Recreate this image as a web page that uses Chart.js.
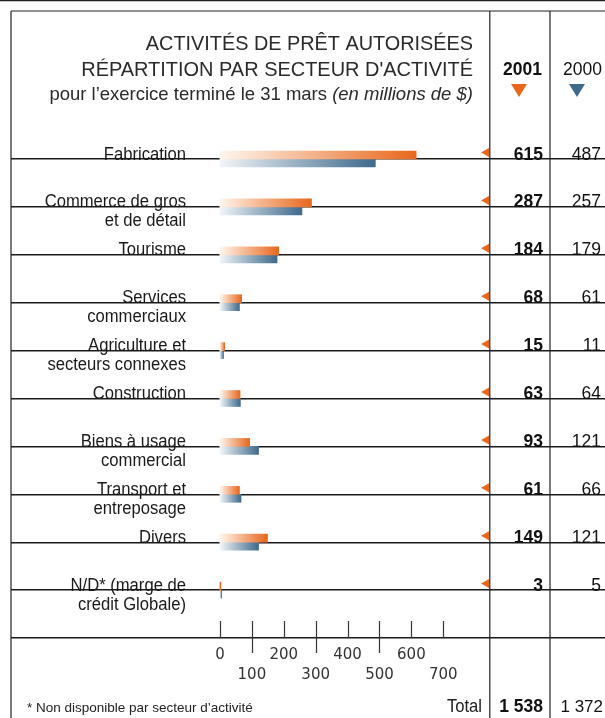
<!DOCTYPE html>
<html>
<head>
<meta charset="utf-8">
<script src="https://cdn.jsdelivr.net/npm/chart.js@4.4.1/dist/chart.umd.min.js"></script>
<style>
  html, body { margin: 0; padding: 0; background: #fff; overflow: hidden; }
  canvas { display: block; }
</style>
</head>
<body>
<canvas id="sectorChart" width="605" height="718"></canvas>
<script>
// rows of the table (label lines), last entry is the empty slot above the axis
const sectors = [
    ['Fabrication'],
    ['Commerce de gros', 'et de détail'],
    ['Tourisme'],
    ['Services', 'commerciaux'],
    ['Agriculture et', 'secteurs connexes'],
    ['Construction'],
    ['Biens à usage', 'commercial'],
    ['Transport et', 'entreposage'],
    ['Divers'],
    ['N/D* (marge de', 'crédit Globale)']
];
const loans2001 = [615, 287, 184, 68, 15, 63, 93, 61, 149, 3];
const loans2000 = [487, 257, 179, 61, 11, 64, 121, 66, 121, 5];
const axisTicks = [0, 100, 200, 300, 400, 500, 600, 700];
const totals = { y2001: '1 538', y2000: '1 372' };

const ORANGE = '#e8671c';
const BLUE = '#3e6a8c';
const INK = '#222';

function barFill(light, full) {
    return function (context) {
        const chart = context.chart;
        const xs = chart.scales.x;
        if (!xs || context.raw == null) return full;
        const x0 = xs.getPixelForValue(0);
        const x1 = xs.getPixelForValue(context.raw);
        if (!isFinite(x0) || !isFinite(x1) || x1 - x0 < 1) return full;
        const g = chart.ctx.createLinearGradient(x0, 0, x1, 0);
        g.addColorStop(0, light);
        g.addColorStop(1, full);
        return g;
    };
}

function txt(ctx, s, x, y, font, align, sx) {
    ctx.save();
    ctx.font = font;
    ctx.textAlign = align;
    ctx.textBaseline = 'alphabetic';
    ctx.translate(x, y);
    ctx.scale(sx || 1, 1);
    ctx.fillText(s, 0, 0);
    ctx.restore();
}

function tri(ctx, pts, color) {
    ctx.beginPath();
    ctx.moveTo(pts[0], pts[1]);
    ctx.lineTo(pts[2], pts[3]);
    ctx.lineTo(pts[4], pts[5]);
    ctx.closePath();
    ctx.fillStyle = color;
    ctx.fill();
}

const tablePlugin = {
    id: 'tablePlugin',
    afterDraw(chart) {
        const ctx = chart.ctx;
        const xs = chart.scales.x;
        const ys = chart.scales.y;
        const area = chart.chartArea;
        const W = chart.width, H = chart.height;
        const colA = 489.8, colB = 550;

        ctx.save();
        ctx.strokeStyle = INK;
        ctx.lineWidth = 1.2;
        ctx.beginPath();
        ctx.moveTo(0, 0.6); ctx.lineTo(W, 0.6);
        ctx.moveTo(11, 11); ctx.lineTo(W, 11);
        ctx.moveTo(11, 11); ctx.lineTo(11, H);
        ctx.moveTo(colA, 11); ctx.lineTo(colA, H);
        ctx.moveTo(colB, 11); ctx.lineTo(colB, H);
        ctx.stroke();

        // title block
        ctx.fillStyle = '#2a2a2a';
        txt(ctx, 'ACTIVITÉS DE PRÊT AUTORISÉES', 473, 50, '21px "Liberation Sans"', 'right', 0.945);
        txt(ctx, "RÉPARTITION PAR SECTEUR D'ACTIVITÉ", 473, 76, '21px "Liberation Sans"', 'right', 0.95);
        const smallFont = '18.5px "Liberation Sans"';
        const italFont = 'italic 18.5px "Liberation Sans"';
        ctx.font = italFont;
        const it = '(en millions de $)';
        const wIt = ctx.measureText(it).width;
        txt(ctx, it, 473, 100, italFont, 'right');
        txt(ctx, 'pour l’exercice terminé le 31 mars ', 473 - wIt, 100, smallFont, 'right');

        // column headers
        ctx.fillStyle = '#111';
        txt(ctx, '2001', 542, 75, 'bold 17.5px "Liberation Sans"', 'right');
        txt(ctx, '2000', 602, 75, '17.5px "Liberation Sans"', 'right');
        tri(ctx, [511, 84, 527, 84, 519, 97], ORANGE);
        tri(ctx, [569, 84, 585, 84, 577, 97], BLUE);

        // row labels, markers and values
        sectors.forEach((lines, i) => {
            const y = ys.getPixelForTick(i);
            ctx.fillStyle = '#1a1a1a';
            lines.forEach((line, k) => {
                txt(ctx, line, 186, y + 0.5 + k * 19, '17.5px "Liberation Sans"', 'right', 0.95);
            });
            tri(ctx, [481, y - 6.5, 489, y - 11, 489, y - 2], ORANGE);
            ctx.fillStyle = '#111';
            txt(ctx, String(loans2001[i]), 543, y + 0.5, 'bold 17.5px "Liberation Sans"', 'right');
            txt(ctx, String(loans2000[i]), 601, y + 0.5, '17.5px "Liberation Sans"', 'right');
        });

        // axis tick marks (rising above the base line, odd ones crossing it)
        ctx.strokeStyle = '#333';
        ctx.lineWidth = 1.2;
        ctx.beginPath();
        axisTicks.forEach((v, i) => {
            const x = Math.round(xs.getPixelForValue(v)) + 0.5;
            ctx.moveTo(x, area.bottom - 17);
            ctx.lineTo(x, area.bottom + (i % 2 === 1 && i < axisTicks.length - 1 ? 15 : 0));
        });
        ctx.stroke();

        // footer
        ctx.fillStyle = '#222';
        txt(ctx, '* Non disponible par secteur d’activité', 27, 712, '13.5px "Liberation Sans"', 'left');
        txt(ctx, 'Total', 482, 712, '17.5px "Liberation Sans"', 'right', 0.95);
        ctx.fillStyle = '#111';
        txt(ctx, totals.y2001, 543, 712, 'bold 17.5px "Liberation Sans"', 'right');
        txt(ctx, totals.y2000, 603, 712, '17px "Liberation Sans"', 'right');
        ctx.restore();
    }
};

const ctx = document.getElementById('sectorChart').getContext('2d');
const sectorChart = new Chart(ctx, {
    type: 'bar',
    data: {
        labels: sectors.map(s => s.join(' ')).concat(['']),
        datasets: [{
            label: '2001',
            data: loans2001,
            backgroundColor: barFill('#fff6ee', ORANGE),
            barThickness: 8,
            clip: false
        }, {
            label: '2000',
            data: loans2000,
            backgroundColor: barFill('#f2f5f8', BLUE),
            barThickness: 8,
            clip: false
        }]
    },
    options: {
        indexAxis: 'y',
        responsive: false,
        animation: false,
        events: [],
        layout: { padding: { left: 11, top: 159, right: 0, bottom: 0 } },
        plugins: {
            legend: { display: false },
            tooltip: { enabled: false }
        },
        scales: {
            x: {
                min: -655,
                max: 1207,
                afterBuildTicks: (scale) => { scale.ticks = axisTicks.map(v => ({ value: v })); },
                afterFit: (scale) => { scale.height = 80; },
                grid: { display: false, drawTicks: false },
                border: { display: false },
                ticks: {
                    autoSkip: false,
                    maxRotation: 0,
                    padding: 7,
                    color: '#333',
                    font: { family: 'DejaVu Sans', size: 15, lineHeight: 1.35 },
                    callback: (v, i) => (i % 2 ? ['', String(v)] : String(v))
                }
            },
            y: {
                offset: false,
                afterFit: (scale) => { scale.width = 0; },
                grid: { offset: false, drawTicks: false, color: '#1a1a1a', lineWidth: 1.4 },
                border: { display: false },
                ticks: { display: false }
            }
        }
    },
    plugins: [tablePlugin]
});
</script>
</body>
</html>
